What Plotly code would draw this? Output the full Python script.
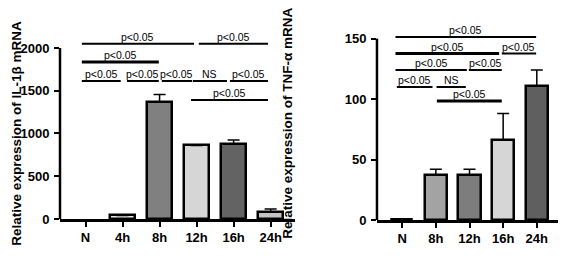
import plotly.graph_objects as go

# ---- data: IL-1beta ----
il_cats = ["N", "4h", "8h", "12h", "16h", "24h"]
il_vals = [None, 42, 1370, 860, 880, 78]
il_err = [0, 6, 86, 8, 43, 40]
il_colors = ["#ffffff", "#e6e6e6", "#808080", "#d6d6d6", "#636363", "#c4c4c4"]
il_ticks = [0, 500, 1000, 1500, 2000]

# significance brackets (x0, x1 in category units, y in data units, label, line width)
il_sig_x0 = [-0.1, 3.06, -0.1, -0.1, 1.12, 2.06, 2.90, 3.90, 2.85]
il_sig_x1 = [2.93, 4.93, 1.98, 0.95, 1.98, 2.88, 3.82, 4.93, 4.93]
il_sig_y = [2050, 2050, 1836, 1614, 1614, 1614, 1614, 1614, 1392]
il_sig_lab = ["p<0.05", "p<0.05", "p<0.05", "p<0.05", "p<0.05", "p<0.05", "NS", "p<0.05", "p<0.05"]
il_sig_w = [2, 2, 3, 2, 2, 2, 2, 2, 2]

# ---- data: TNF-alpha ----
tnf_cats = ["N", "8h", "12h", "16h", "24h"]
tnf_vals = [0.6, 37.5, 37.5, 66, 111]
tnf_err = [0.3, 4.5, 4.5, 22, 13]
tnf_colors = ["#ffffff", "#a3a3a3", "#7d7d7d", "#d6d6d6", "#5f5f5f"]
tnf_ticks = [0, 50, 100, 150]

tnf_sig_x0 = [-0.2, -0.2, 2.96, -0.2, 1.98, -0.16, 1.02, 1.03]
tnf_sig_x1 = [3.98, 2.88, 3.98, 1.92, 2.96, 0.90, 1.89, 2.96]
tnf_sig_y = [151.4, 137.6, 137.6, 124.1, 124.1, 110, 110, 98.4]
tnf_sig_lab = ["p<0.05", "p<0.05", "p<0.05", "p<0.05", "p<0.05", "p<0.05", "NS", "p<0.05"]
tnf_sig_w = [2, 3, 2, 2, 2, 2, 2, 3]

FONT = "Liberation Sans, Arial, sans-serif"

fig = go.Figure()
fig.add_trace(go.Bar(
    x=il_cats, y=il_vals, xaxis="x", yaxis="y", width=0.66,
    marker=dict(color=il_colors, line=dict(color="black", width=2.5)),
    error_y=dict(type="data", array=il_err, arrayminus=[0] * len(il_err), symmetric=False,
                 color="black", thickness=1.5, width=6),
))
fig.add_trace(go.Bar(
    x=tnf_cats, y=tnf_vals, xaxis="x2", yaxis="y2", width=0.66,
    marker=dict(color=tnf_colors, line=dict(color="black", width=[1, 2.5, 2.5, 2.5, 2.5])),
    error_y=dict(type="data", array=tnf_err, arrayminus=[0] * len(tnf_err), symmetric=False,
                 color="black", thickness=1.5, width=6),
))

shapes = []
annots = []

def add_sig(xr, yr, x0s, x1s, ys, labs, ws):
    for x0, x1, y, lab, w in zip(x0s, x1s, ys, labs, ws):
        shapes.append(dict(type="line", xref=xr, yref=yr, x0=x0, x1=x1, y0=y, y1=y,
                           line=dict(color="black", width=w)))
        annots.append(dict(xref=xr, yref=yr, x=(x0 + x1) / 2, y=y, text=lab, showarrow=False,
                           yanchor="bottom", yshift=-1,
                           font=dict(family=FONT, size=10.5, color="black")))

add_sig("x", "y", il_sig_x0, il_sig_x1, il_sig_y, il_sig_lab, il_sig_w)
add_sig("x2", "y2", tnf_sig_x0, tnf_sig_x1, tnf_sig_y, tnf_sig_lab, tnf_sig_w)

# y axis lines only up to the top tick
shapes.append(dict(type="line", xref="x domain", yref="y", x0=0, x1=0, y0=0, y1=il_ticks[-1],
                   line=dict(color="black", width=2.5)))
shapes.append(dict(type="line", xref="x2 domain", yref="y2", x0=0, x1=0, y0=0, y1=tnf_ticks[-1],
                   line=dict(color="black", width=2.5)))

# axis titles
annots.append(dict(xref="paper", yref="y", x=-0.088, y=1000, text="<b>Relative expression of IL-1β mRNA</b>",
                   textangle=-90, showarrow=False, xanchor="center", yanchor="middle",
                   font=dict(family=FONT, size=13.5, color="black")))
annots.append(dict(xref="paper", yref="y2", x=0.457, y=80, text="<b>Relative expression of TNF-α mRNA</b>",
                   textangle=-90, showarrow=False, xanchor="center", yanchor="middle",
                   font=dict(family=FONT, size=13.5, color="black")))

tickfont = dict(family=FONT, size=13, color="black", weight="bold")
xcommon = dict(type="category", showline=True, linecolor="black", linewidth=2.5,
               ticks="outside", ticklen=5, tickwidth=2, tickcolor="black",
               tickfont=tickfont, showgrid=False, zeroline=False, fixedrange=True)
ycommon = dict(showline=False, ticks="outside", ticklen=5, tickwidth=2, tickcolor="black",
               tickfont=tickfont, showgrid=False, zeroline=False, ticklabelstandoff=2)

# page body has an 8px margin: shrink the figure so it fits the 567x259 window
fig.update_layout(
    width=559, height=251,
    margin=dict(l=52, r=9, t=12, b=39),
    paper_bgcolor="white", plot_bgcolor="white",
    showlegend=False, bargap=0,
    xaxis=dict(domain=[0, 0.472], range=[-0.69, 5.66], anchor="y", **xcommon),
    yaxis=dict(domain=[0.005, 1], range=[0, 2327], tickvals=il_ticks, anchor="x", **ycommon),
    xaxis2=dict(domain=[0.6365, 1], range=[-0.75, 4.63], anchor="y2", **xcommon),
    yaxis2=dict(domain=[0, 1], range=[0, 165.4], tickvals=tnf_ticks, anchor="x2", **ycommon),
    shapes=shapes, annotations=annots,
)

fig.write_html("out.html")
